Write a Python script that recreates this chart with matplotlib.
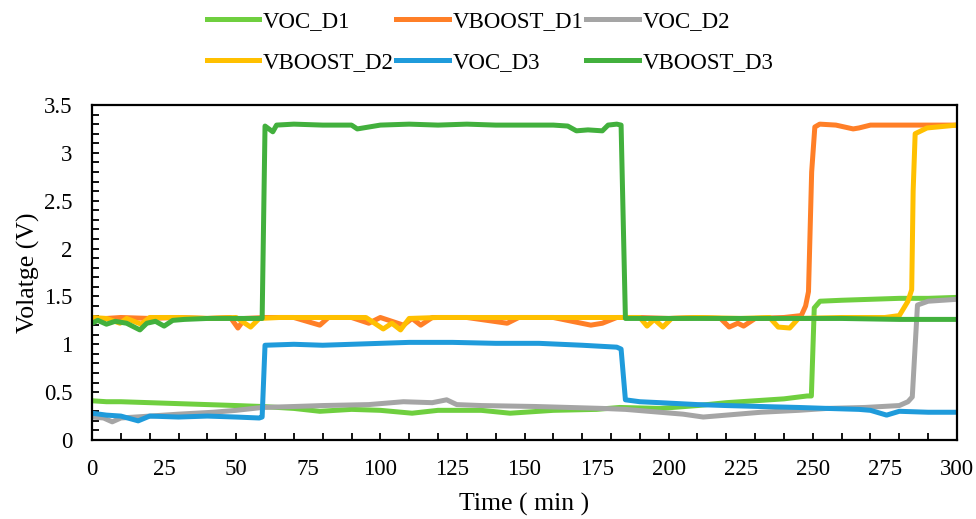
import matplotlib
matplotlib.use("Agg")
import matplotlib.pyplot as plt
from matplotlib.ticker import MultipleLocator, FormatStrFormatter

plt.rcParams['font.family'] = ['Liberation Serif', 'DejaVu Serif']

# VOC_D1
t_voc1 = [0, 5, 10, 20, 30, 40, 50, 59, 70, 79, 90, 100, 111, 120, 135, 145, 160, 175, 183,
          197, 210, 220, 230, 240, 248, 249.5, 250.5, 252.5, 260, 270, 280, 290, 300]
v_voc1 = [0.41, 0.40, 0.40, 0.39, 0.38, 0.37, 0.36, 0.35, 0.33, 0.30, 0.32, 0.31, 0.28, 0.31, 0.31, 0.28, 0.31, 0.32, 0.34,
          0.33, 0.36, 0.39, 0.41, 0.43, 0.46, 0.46, 1.38, 1.45, 1.46, 1.47, 1.48, 1.48, 1.49]

# VBOOST_D1
t_vb1 = [0, 3, 5, 10, 20, 30, 40, 48, 50.6, 53, 60, 70, 79, 82, 90, 96, 100, 108, 111, 114, 118, 130, 144, 148,
         160, 173, 177, 182, 190, 200, 210, 218, 221, 224, 226, 230, 240, 246, 247.5, 248.5, 249.6, 250.7, 252.4,
         258, 264, 266, 270, 280, 290, 300]
v_vb1 = [1.27, 1.24, 1.27, 1.28, 1.27, 1.28, 1.27, 1.28, 1.17, 1.27, 1.28, 1.28, 1.20, 1.28, 1.28, 1.22, 1.28, 1.20, 1.27, 1.20, 1.28, 1.28, 1.22, 1.28,
         1.28, 1.20, 1.22, 1.28, 1.28, 1.27, 1.28, 1.27, 1.18, 1.22, 1.19, 1.27, 1.28, 1.30, 1.40, 1.55, 2.80, 3.27, 3.30,
         3.29, 3.25, 3.26, 3.29, 3.29, 3.29, 3.29]

# VOC_D2
t_voc2 = [0, 4, 7, 10, 20, 30, 42, 50, 59, 70, 80, 96, 108, 118, 123, 126.5, 135, 154, 177, 185, 197, 205, 212,
          220, 232, 245, 255, 268, 280, 283, 284.5, 286.3, 290, 300]
v_voc2 = [0.24, 0.23, 0.19, 0.23, 0.25, 0.27, 0.29, 0.31, 0.34, 0.35, 0.36, 0.37, 0.40, 0.39, 0.42, 0.37, 0.36, 0.35, 0.33, 0.32, 0.29, 0.27, 0.24,
          0.26, 0.29, 0.31, 0.33, 0.34, 0.36, 0.40, 0.45, 1.41, 1.45, 1.47]

# VBOOST_D2
t_vb2 = [0, 5, 9.7, 12, 17, 20, 30, 40, 50, 55, 58, 65, 80, 95, 101, 104, 107, 110, 120, 140, 160, 180, 187,
         190, 192.5, 195, 198, 201, 210, 225, 235, 238, 242, 245, 260, 275, 280, 283, 284.3, 284.8, 285.5, 289.6, 300]
v_vb2 = [1.28, 1.27, 1.22, 1.27, 1.21, 1.28, 1.28, 1.27, 1.28, 1.18, 1.27, 1.28, 1.28, 1.28, 1.16, 1.22, 1.15, 1.27, 1.28, 1.28, 1.28, 1.28, 1.28,
         1.28, 1.19, 1.26, 1.18, 1.27, 1.28, 1.27, 1.28, 1.18, 1.17, 1.27, 1.28, 1.28, 1.30, 1.45, 1.57, 2.60, 3.20, 3.26, 3.29]

# VOC_D3
t_voc3 = [0, 5, 10, 16, 20, 30, 40, 50, 58, 59, 60, 70, 80, 90, 100, 110, 125, 140, 155, 170, 182, 183.5, 185,
          190, 197, 210, 220, 232, 245, 255, 266, 270, 275.6, 280, 290, 300]
v_voc3 = [0.28, 0.26, 0.25, 0.20, 0.25, 0.24, 0.25, 0.24, 0.23, 0.24, 0.99, 1.00, 0.99, 1.00, 1.01, 1.02, 1.02, 1.01, 1.01, 0.99, 0.97, 0.95, 0.42,
          0.40, 0.39, 0.37, 0.36, 0.35, 0.34, 0.33, 0.32, 0.31, 0.26, 0.30, 0.29, 0.29]

# VBOOST_D3
t_vb3 = [0, 2, 5, 8, 12, 16.6, 19, 22, 25, 28, 32, 40, 50, 58, 59, 60, 62.7, 64, 70, 80, 90, 92, 100, 110, 120,
         130, 140, 150, 160, 165, 168, 172, 177, 179, 182, 183.5, 185, 200, 220, 240, 260, 280, 300]
v_vb3 = [1.22, 1.25, 1.21, 1.24, 1.22, 1.15, 1.22, 1.24, 1.19, 1.25, 1.26, 1.27, 1.27, 1.27, 1.27, 3.28, 3.22, 3.29, 3.30, 3.29, 3.29, 3.25, 3.29, 3.30, 3.29,
         3.30, 3.29, 3.29, 3.29, 3.28, 3.23, 3.24, 3.23, 3.29, 3.30, 3.29, 1.27, 1.27, 1.27, 1.27, 1.27, 1.26, 1.26]

series = [
    ("VOC_D1", t_voc1, v_voc1, "#6fcf3f"),
    ("VBOOST_D1", t_vb1, v_vb1, "#ff7f27"),
    ("VOC_D2", t_voc2, v_voc2, "#a5a5a5"),
    ("VBOOST_D2", t_vb2, v_vb2, "#ffc000"),
    ("VOC_D3", t_voc3, v_voc3, "#1f9bdb"),
    ("VBOOST_D3", t_vb3, v_vb3, "#42b03d"),
]

fig = plt.figure(figsize=(9.76, 5.19), dpi=100)
ax = fig.add_axes([0.0943, 0.1522, 0.8862, 0.6455])

lines = []
for nombre, t, v, color in series:
    ln, = ax.plot(t, v, color=color, lw=3.6, label=nombre, solid_joinstyle='round')
    lines.append(ln)

ax.set_xlim(0, 300)
ax.set_ylim(0, 3.5)
ax.xaxis.set_major_locator(MultipleLocator(25))
ax.xaxis.set_minor_locator(MultipleLocator(10))
ax.yaxis.set_major_locator(MultipleLocator(0.5))
ax.yaxis.set_minor_locator(MultipleLocator(0.1))
ax.xaxis.remove_overlapping_locs = False
ax.yaxis.remove_overlapping_locs = False
ax.yaxis.set_major_formatter(FormatStrFormatter('%g'))
ax.tick_params(which='both', direction='in', length=5, width=1.3, labelsize=16.5)
ax.tick_params(which='major', length=0)
ax.tick_params(axis='x', which='major', pad=14)
ax.tick_params(axis='y', which='major', pad=14)
for s in ax.spines.values():
    s.set_linewidth(1.6)

ax.set_xlabel('Time ( min )', fontsize=18.5, labelpad=9)
ax.set_ylabel('Volatge (V)', fontsize=18.5, labelpad=3)

# orden por filas: leyenda de 3 columnas
orden = [0, 3, 1, 4, 2, 5]
fig.legend([lines[i] for i in orden], [series[i][0] for i in orden],
           loc='upper center', bbox_to_anchor=(0.502, 1.018), ncol=3, frameon=False,
           fontsize=16.5, handlelength=2.3, handletextpad=0.17, columnspacing=0.1,
           labelspacing=0.85)

fig.savefig('out.png', dpi=100)
